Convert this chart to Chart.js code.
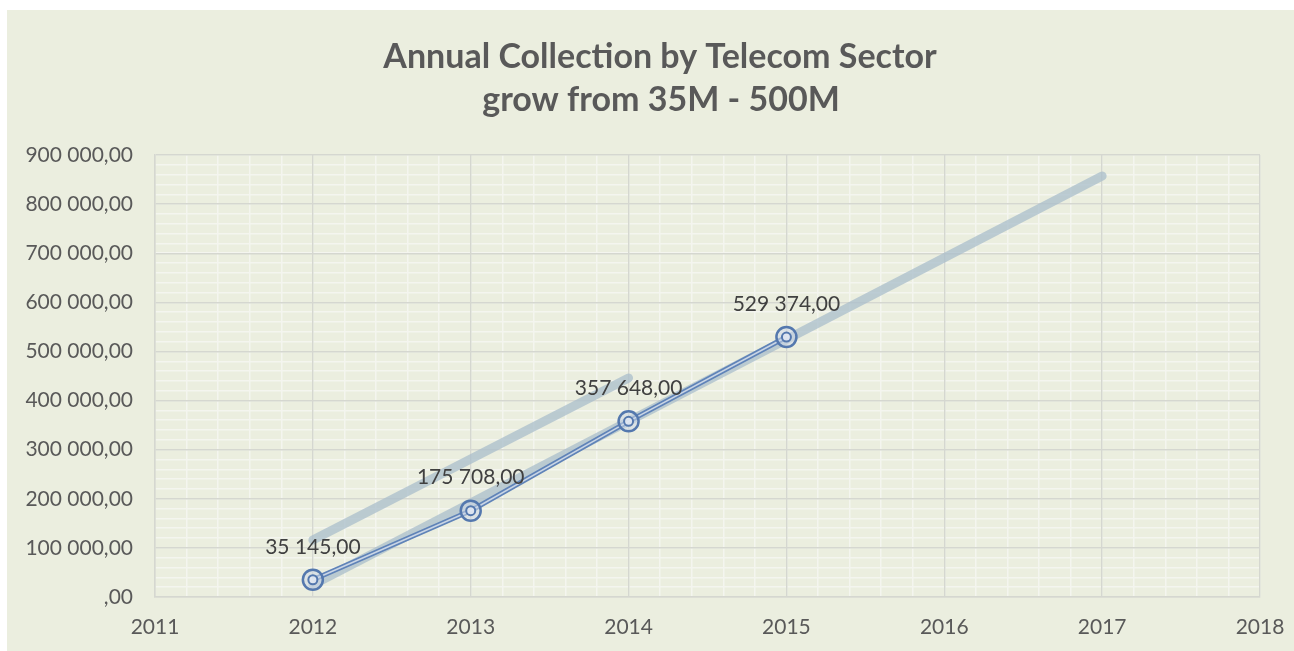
<!DOCTYPE html>
<html>
<head>
<meta charset="utf-8">
<script src="https://cdn.jsdelivr.net/npm/chart.js@4/dist/chart.umd.min.js"></script>
<style>
  html, body { margin: 0; padding: 0; background: #ffffff; }
  #wrap { width: 1294px; height: 651px; position: relative; }
</style>
</head>
<body>
<div id="wrap"><canvas id="c" width="1294" height="651"></canvas></div>
<script>
// ---- data ----
const titleLines = ['Annual Collection by Telecom Sector', 'grow from 35M - 500M'];
const years = [2012, 2013, 2014, 2015];
const collection = [35145, 175708, 357648, 529374];
// linear trend line of the collection series (2012 -> 2017 forecast)
const trendYears = [2012, 2017];
const trendValues = [24800, 857100];
// second (upper) trend segment
const trend2Years = [2012, 2014];
const trend2Values = [116000, 446000];
// axes
const xMin = 2011, xMax = 2018, xMajorStep = 1, xMinorStep = 0.2;
const yMin = 0, yMax = 900000, yMajorStep = 100000, yMinorStep = 20000;

function fmt(v) {
  const fixed = Math.abs(v).toFixed(2);
  const parts = fixed.split('.');
  let intPart = parts[0].replace(/\B(?=(\d{3})+(?!\d))/g, ' ');
  if (intPart === '0') intPart = '';
  return (v < 0 ? '-' : '') + intPart + ',' + parts[1];
}
function pts(xs, ys) { return xs.map((x, i) => ({ x: x, y: ys[i] })); }

const FONT = 'Lato, "Open Sans", sans-serif';
const TICK_COLOR = '#595959';
const MAJOR_GRID = '#D5D7D0';
const MINOR_GRID = '#F4F5EF';

const panelPlugin = {
  id: 'panel',
  beforeDraw(chart) {
    const ctx = chart.ctx;
    ctx.save();
    ctx.fillStyle = '#ffffff';
    ctx.fillRect(0, 0, chart.width, chart.height);
    ctx.fillStyle = '#EBEEDF';
    ctx.fillRect(7, 10, chart.width - 7, chart.height - 10);
    ctx.fillStyle = '#595959';
    ctx.font = 'bold 34px ' + FONT;
    ctx.textAlign = 'center';
    ctx.textBaseline = 'middle';
    ctx.fillText(titleLines[0], 660, 57);
    ctx.fillText(titleLines[1], 661, 100);
    ctx.restore();
  }
};

const labelPlugin = {
  id: 'pointLabels',
  afterDatasetsDraw(chart) {
    const ctx = chart.ctx;
    const idx = chart.data.datasets.findIndex(d => d.label === 'markersOuter');
    const meta = chart.getDatasetMeta(idx);
    ctx.save();
    ctx.fillStyle = '#404040';
    ctx.font = '21px ' + FONT;
    ctx.textAlign = 'center';
    ctx.textBaseline = 'middle';
    meta.data.forEach((el, i) => {
      ctx.fillText(fmt(collection[i]), el.x, el.y - 33);
    });
    ctx.restore();
  }
};

const trendColor = 'rgba(170,190,203,0.75)';
function noSidePad(scale) { scale.paddingLeft = 0; scale.paddingRight = 0; }

new Chart(document.getElementById('c'), {
  type: 'line',
  data: {
    datasets: [
      { label: 'trend2', data: pts(trend2Years, trend2Values), borderColor: trendColor,
        borderWidth: 9, borderCapStyle: 'round', pointRadius: 0, order: 10 },
      { label: 'trend', data: pts(trendYears, trendValues), borderColor: trendColor,
        borderWidth: 9, borderCapStyle: 'round', pointRadius: 0, order: 9 },
      { label: 'lineOuter', data: pts(years, collection), borderColor: '#5F83B8',
        borderWidth: 5, pointRadius: 0, order: 8 },
      { label: 'lineInner', data: pts(years, collection), borderColor: '#C9D5E5',
        borderWidth: 1.6, pointRadius: 0, order: 7 },
      { label: 'markersOuter', data: pts(years, collection), showLine: false,
        pointStyle: 'circle', pointRadius: 10, pointBorderWidth: 2.5,
        pointBorderColor: '#5478AE', pointBackgroundColor: 'rgba(205,216,232,0.55)', order: 6 },
      { label: 'markersInner', data: pts(years, collection), showLine: false,
        pointStyle: 'circle', pointRadius: 4.5, pointBorderWidth: 2,
        pointBorderColor: '#5478AE', pointBackgroundColor: 'rgba(225,232,242,0.9)', order: 5 }
    ]
  },
  options: {
    responsive: false,
    animation: false,
    events: [],
    layout: { padding: { left: 7, top: 155, right: 34, bottom: 0 } },
    plugins: { legend: { display: false }, title: { display: false }, tooltip: { enabled: false } },
    scales: {
      x: {
        type: 'linear', position: 'bottom',
        min: xMin, max: xMax,
        afterFit(scale) { scale.height = 54; noSidePad(scale); },
        ticks: {
          stepSize: xMajorStep, autoSkip: false, maxRotation: 0, padding: 18,
          color: TICK_COLOR, font: { family: FONT, size: 21 },
          callback: (v) => String(Math.round(v))
        },
        grid: { drawTicks: false, color: MAJOR_GRID, lineWidth: 1.4 },
        border: { display: true, color: MAJOR_GRID, width: 1.5 }
      },
      xMinor: {
        type: 'linear', position: 'bottom',
        min: xMin, max: xMax,
        afterFit(scale) { scale.height = 0; noSidePad(scale); },
        ticks: { display: false, stepSize: xMinorStep, maxTicksLimit: 1000, autoSkip: false },
        grid: { drawTicks: false, color: MINOR_GRID, lineWidth: 1.5, z: -2 },
        border: { display: false }
      },
      y: {
        type: 'linear', position: 'left',
        min: yMin, max: yMax,
        afterFit(scale) { scale.width = 148; },
        ticks: {
          stepSize: yMajorStep, autoSkip: false, padding: 22,
          color: TICK_COLOR, font: { family: FONT, size: 21 },
          callback: (v) => fmt(v)
        },
        grid: { drawTicks: false, color: MAJOR_GRID, lineWidth: 1.4 },
        border: { display: true, color: MAJOR_GRID, width: 1.5 }
      },
      yMinor: {
        type: 'linear', position: 'left',
        min: yMin, max: yMax,
        afterFit(scale) { scale.width = 0; },
        ticks: { display: false, stepSize: yMinorStep, maxTicksLimit: 1000, autoSkip: false },
        grid: { drawTicks: false, color: MINOR_GRID, lineWidth: 1.5, z: -2 },
        border: { display: false }
      }
    }
  },
  plugins: [panelPlugin, labelPlugin]
});
</script>
</body>
</html>
